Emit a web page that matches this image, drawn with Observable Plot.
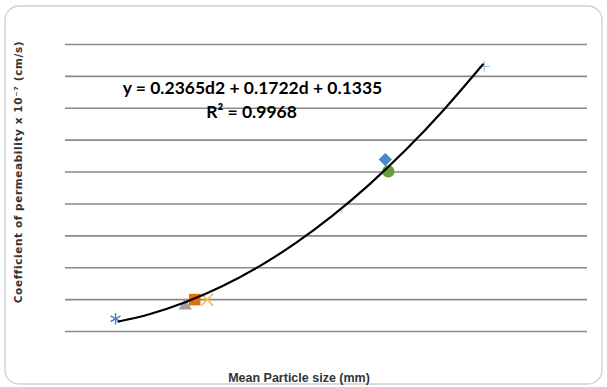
<!DOCTYPE html>
<html><head><meta charset="utf-8">
<script src="https://cdn.jsdelivr.net/npm/d3@7"></script>
<script src="https://cdn.jsdelivr.net/npm/@observablehq/plot@0.6"></script>
<style>body{margin:0;background:#fff;} #chart svg{display:block;}</style>
</head><body><div id="chart"></div>
<script>
// Horizontal gridline values (no tick labels shown in the reference)
const gridValues = [0, 1, 2, 3, 4, 5, 6, 7, 8, 9];

const seriesNames  = ["S1", "S2", "S3", "S4", "S5", "S6", "S7", "S8"];
const particleSize = [0.54, 1.49, 1.62, 1.79, 3.62, 4.22, 4.26, 5.57];
const permeability = [0.40, 0.81, 1.00, 1.00, 3.76, 5.39, 5.02, 8.31];

// Polynomial trendline
const trendSize = [0.58, 1.0, 1.5, 2.0, 2.5, 3.0, 3.5, 4.0, 4.5, 5.0, 5.55];
const trendPerm = [0.313, 0.542, 0.924, 1.424, 2.042, 2.779, 3.634, 4.606, 5.697, 6.907, 8.374];

// Texts
const equationText = "y = 0.2365d2 + 0.1722d + 0.1335";
const r2Text = "R² = 0.9968";
const xLabel = "Mean Particle size (mm)";
const yLabel = "Coefficient of permeability x 10⁻⁷ (cm/s)";

const points = seriesNames.map((s, i) => ({series: s, d: particleSize[i], k: permeability[i]}));
const trend = trendSize.map((d, i) => ({d, k: trendPerm[i]}));

const styles = {
  S1: {symbol: "asterisk", stroke: "#4f7ec4", r: 5.5, strokeWidth: 1.4},
  S2: {symbol: "triangle", fill: "#a0a0a0", r: 5},
  S3: {symbol: "square", fill: "#e46c0a", r: 6.5},
  S4: {symbol: "times", stroke: "#f2c14e", r: 5.5, strokeWidth: 1.6},
  S5: {symbol: "square", fill: "#fbd0bd", r: 1.6},
  S6: {symbol: "diamond2", fill: "#4f86c6", r: 6},
  S7: {symbol: "circle", fill: "#62a03e", r: 6.2},
  S8: {symbol: "plus", stroke: "#a6c3e8", r: 3.8, strokeWidth: 1.2}
};

const dotMarks = seriesNames.map(s => Plot.dot(points.filter(p => p.series === s), {x: "d", y: "k", ...styles[s]}));

const chart = Plot.plot({
  width: 607, height: 387,
  marginLeft: 65, marginRight: 20, marginTop: 44, marginBottom: 56,
  style: {background: "transparent"},
  x: {domain: [-0.143, 6.978], axis: null},
  y: {domain: [0, 9], axis: null},
  marks: [
    Plot.ruleY(gridValues, {stroke: "#8a8a8a", strokeWidth: 1.6}),
    ...dotMarks,
    Plot.line(trend, {x: "d", y: "k", stroke: "#000", strokeWidth: 2.2, curve: "natural"}),
    Plot.text([equationText], {frameAnchor: "top-left", dx: 187, dy: 44, text: d => d, fontFamily: "Lato", fontWeight: 700, fontSize: 17.5, fill: "#000", textAnchor: "middle", lineAnchor: "middle"}),
    Plot.text([r2Text], {frameAnchor: "top-left", dx: 186, dy: 68, text: d => d, fontFamily: "Lato", fontWeight: 700, fontSize: 17.5, fill: "#000", textAnchor: "middle", lineAnchor: "middle"})
  ]
});
document.getElementById("chart").appendChild(chart);

const svg = d3.select(chart);
svg.insert("rect", ":first-child")
  .attr("x", 5).attr("y", 6).attr("width", 597).attr("height", 378)
  .attr("rx", 14).attr("ry", 14)
  .attr("fill", "#fff").attr("stroke", "#cfcfcf").attr("stroke-width", 1.3);
svg.append("text")
  .attr("x", 299).attr("y", 382)
  .attr("text-anchor", "middle")
  .attr("font-family", "'Liberation Sans Narrow', 'Arial Narrow', sans-serif")
  .attr("font-weight", 700).attr("font-size", 12.5).attr("fill", "#333")
  .text(xLabel);
svg.append("text")
  .attr("transform", "translate(22,172) rotate(-90)")
  .attr("text-anchor", "middle")
  .attr("font-family", "'DejaVu Sans', sans-serif")
  .attr("font-weight", 700).attr("font-size", 10.5).attr("fill", "#333")
  .attr("letter-spacing", 0.6)
  .text(yLabel);
</script>
</body></html>
